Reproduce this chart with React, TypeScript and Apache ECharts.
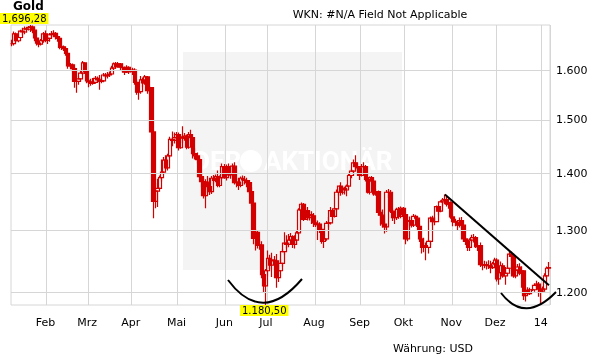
import React, { useEffect, useRef } from "react";
import * as echarts from "echarts";

// ---- categories (trading weekdays, 9 Jan 2013 .. 6 Jan 2014) ----
const startDate = "2013-01-09";
const endDate = "2014-01-06";
const xTickLabels = ["Feb", "Mrz", "Apr", "Mai", "Jun", "Jul", "Aug", "Sep", "Okt", "Nov", "Dez", "14"];
const yTicks = [1200, 1300, 1400, 1500, 1600];
const yTickLabels = ["1.200", "1.300", "1.400", "1.500", "1.600"];

// ---- OHLC per month: [open, close, low, high] ----
const jan13 = [
  [1656, 1656, 1650, 1664], [1656, 1677, 1652, 1682], [1677, 1662, 1658, 1680], [1662, 1669, 1659, 1673],
  [1669, 1683, 1665, 1686], [1683, 1681, 1674, 1690], [1681, 1688, 1676, 1693], [1688, 1687, 1680, 1692],
  [1687, 1691, 1684, 1694], [1691, 1692, 1681, 1696.28], [1692, 1685, 1678, 1695], [1685, 1668, 1661, 1690],
  [1668, 1657, 1652, 1670], [1657, 1655, 1648, 1664], [1655, 1662, 1652, 1666], [1662, 1677, 1658, 1681],
  [1677, 1663, 1659, 1684],
];
const feb13 = [
  [1663, 1667, 1655, 1674], [1667, 1675, 1660, 1679], [1675, 1677, 1668, 1683], [1677, 1678, 1670, 1685],
  [1678, 1671, 1665, 1681], [1671, 1667, 1660, 1675], [1667, 1648, 1644, 1669], [1648, 1649, 1642, 1653],
  [1649, 1645, 1640, 1652], [1645, 1635, 1630, 1648], [1635, 1609, 1603, 1637], [1609, 1611, 1604, 1615],
  [1611, 1603, 1597, 1614], [1603, 1577, 1564, 1606], [1577, 1577, 1554, 1582], [1577, 1582, 1570, 1588],
  [1582, 1594, 1578, 1598], [1594, 1615, 1590, 1619], [1615, 1597, 1592, 1616], [1597, 1578, 1573, 1600],
];
const mar13 = [
  [1578, 1576, 1565, 1582], [1576, 1573, 1568, 1582], [1573, 1575, 1570, 1584], [1575, 1583, 1572, 1588],
  [1583, 1580, 1575, 1587], [1580, 1577, 1560, 1590], [1577, 1578, 1573, 1584], [1578, 1590, 1575, 1594],
  [1590, 1588, 1584, 1594], [1588, 1590, 1583, 1596], [1590, 1592, 1586, 1597], [1592, 1604, 1590, 1609],
  [1604, 1613, 1600, 1616], [1613, 1607, 1603, 1617], [1607, 1613, 1605, 1617], [1613, 1606, 1600, 1615],
  [1606, 1605, 1596, 1614], [1605, 1596, 1590, 1607], [1596, 1606, 1594, 1610], [1606, 1597, 1592, 1608],
  [1597, 1598, 1595, 1600],
];
const apr13 = [
  [1598, 1600, 1590, 1605], [1600, 1575, 1570, 1604], [1575, 1555, 1550, 1580], [1555, 1556, 1540, 1562],
  [1556, 1580, 1552, 1588], [1580, 1574, 1565, 1585], [1574, 1586, 1570, 1590], [1586, 1558, 1552, 1588],
  [1558, 1564, 1550, 1568], [1564, 1477, 1475, 1565], [1477, 1350, 1321, 1480], [1350, 1368, 1338, 1383],
  [1368, 1373, 1340, 1390], [1373, 1392, 1370, 1396], [1392, 1402, 1385, 1425], [1402, 1424, 1398, 1430],
  [1424, 1410, 1405, 1433], [1410, 1432, 1405, 1436], [1432, 1463, 1428, 1468], [1463, 1461, 1450, 1478],
  [1461, 1466, 1455, 1476], [1466, 1472, 1460, 1477],
];
const may13 = [
  [1472, 1447, 1442, 1476], [1447, 1467, 1445, 1472], [1467, 1465, 1456, 1488], [1465, 1469, 1460, 1475],
  [1469, 1448, 1444, 1472], [1448, 1472, 1445, 1477], [1472, 1466, 1460, 1481], [1466, 1436, 1427, 1468],
  [1436, 1432, 1425, 1446], [1432, 1425, 1418, 1438], [1425, 1394, 1392, 1428], [1394, 1385, 1375, 1400],
  [1385, 1360, 1355, 1392], [1360, 1384, 1338, 1389], [1384, 1376, 1370, 1395], [1376, 1367, 1361, 1392],
  [1367, 1391, 1363, 1395], [1391, 1387, 1380, 1397], [1387, 1394, 1384, 1398], [1394, 1378, 1375, 1405],
  [1378, 1392, 1375, 1396], [1392, 1412, 1389, 1418], [1412, 1392, 1390, 1417],
];
const jun13 = [
  [1392, 1412, 1387, 1416], [1412, 1397, 1393, 1418], [1397, 1398, 1390, 1404], [1398, 1413, 1393, 1418],
  [1413, 1383, 1380, 1420], [1383, 1384, 1375, 1390], [1384, 1378, 1370, 1392], [1378, 1391, 1375, 1394],
  [1391, 1388, 1378, 1396], [1388, 1387, 1380, 1395], [1387, 1383, 1375, 1392], [1383, 1367, 1363, 1388],
  [1367, 1347, 1342, 1375], [1347, 1287, 1277, 1350], [1287, 1297, 1267, 1302], [1297, 1275, 1270, 1300],
  [1275, 1276, 1268, 1285], [1276, 1228, 1222, 1282], [1228, 1210, 1200, 1233], [1210, 1234, 1180.5, 1237],
];
const jul13 = [
  [1234, 1254, 1225, 1267], [1254, 1243, 1237, 1260], [1243, 1251, 1224, 1263], [1251, 1250, 1245, 1258],
  [1250, 1223, 1207, 1261], [1223, 1234, 1216, 1244], [1234, 1246, 1232, 1252], [1246, 1265, 1241, 1269],
  [1265, 1279, 1260, 1297], [1279, 1277, 1270, 1292], [1277, 1284, 1272, 1294], [1284, 1290, 1278, 1296],
  [1290, 1277, 1271, 1292], [1277, 1284, 1270, 1292], [1284, 1296, 1276, 1299], [1296, 1335, 1293, 1338],
  [1335, 1345, 1333, 1348], [1345, 1319, 1316, 1347], [1319, 1334, 1318, 1338], [1334, 1322, 1317, 1340],
  [1322, 1327, 1317, 1333], [1327, 1325, 1311, 1333], [1325, 1313, 1306, 1330],
];
const aug13 = [
  [1313, 1310, 1306, 1318], [1310, 1311, 1284, 1317], [1311, 1302, 1296, 1314], [1302, 1282, 1278, 1306],
  [1282, 1286, 1271, 1292], [1286, 1312, 1283, 1316], [1312, 1313, 1305, 1323], [1313, 1334, 1310, 1340],
  [1334, 1324, 1318, 1336], [1324, 1337, 1322, 1339], [1337, 1366, 1333, 1371], [1366, 1377, 1360, 1378],
  [1377, 1366, 1360, 1384], [1366, 1373, 1362, 1377], [1373, 1370, 1362, 1376], [1370, 1377, 1359, 1380],
  [1377, 1396, 1372, 1400], [1396, 1404, 1391, 1408], [1404, 1419, 1398, 1425], [1419, 1412, 1406, 1433],
  [1412, 1410, 1404, 1418], [1410, 1396, 1388, 1413],
];
const sep13 = [
  [1396, 1412, 1394, 1417], [1412, 1412, 1400, 1420], [1412, 1389, 1385, 1415], [1389, 1366, 1364, 1392],
  [1366, 1392, 1362, 1394], [1392, 1386, 1382, 1395], [1386, 1363, 1360, 1389], [1363, 1367, 1360, 1372],
  [1367, 1331, 1326, 1369], [1331, 1326, 1308, 1335], [1326, 1311, 1305, 1336], [1311, 1306, 1295, 1315],
  [1306, 1366, 1298, 1370], [1366, 1366, 1356, 1372], [1366, 1333, 1330, 1370], [1333, 1322, 1316, 1336],
  [1322, 1322, 1311, 1328], [1322, 1336, 1318, 1339], [1336, 1324, 1320, 1340], [1324, 1338, 1321, 1341],
  [1338, 1327, 1320, 1340],
];
const oct13 = [
  [1327, 1286, 1277, 1331], [1286, 1316, 1282, 1319], [1316, 1317, 1305, 1324], [1317, 1309, 1305, 1323],
  [1309, 1324, 1306, 1328], [1324, 1321, 1315, 1327], [1321, 1307, 1300, 1324], [1307, 1286, 1281, 1311],
  [1286, 1272, 1262, 1290], [1272, 1275, 1264, 1288], [1275, 1272, 1251, 1280], [1272, 1282, 1262, 1285],
  [1282, 1321, 1276, 1324], [1321, 1315, 1308, 1325], [1315, 1315, 1309, 1322], [1315, 1341, 1314, 1343],
  [1341, 1333, 1326, 1343], [1333, 1349, 1331, 1352], [1349, 1352, 1342, 1356], [1352, 1353, 1345, 1362],
  [1353, 1345, 1341, 1361], [1345, 1348, 1337, 1355], [1348, 1323, 1320, 1350],
];
const nov13 = [
  [1323, 1315, 1307, 1328], [1315, 1314, 1307, 1320], [1314, 1309, 1300, 1318], [1309, 1317, 1305, 1322],
  [1317, 1309, 1302, 1323], [1309, 1286, 1281, 1312], [1286, 1282, 1276, 1289], [1282, 1272, 1266, 1286],
  [1272, 1284, 1266, 1287], [1284, 1288, 1280, 1293], [1288, 1288, 1280, 1294], [1288, 1273, 1271, 1291],
  [1273, 1275, 1266, 1280], [1275, 1244, 1240, 1280], [1244, 1243, 1235, 1250], [1243, 1244, 1238, 1250],
  [1244, 1242, 1236, 1249], [1242, 1242, 1237, 1251], [1242, 1239, 1230, 1250], [1239, 1245, 1237, 1248],
  [1245, 1251, 1240, 1255],
];
const dec13 = [
  [1251, 1221, 1217, 1254], [1221, 1231, 1212, 1236], [1231, 1242, 1225, 1249], [1242, 1226, 1223, 1246],
  [1226, 1230, 1212, 1240], [1230, 1238, 1226, 1242], [1238, 1261, 1234, 1267], [1261, 1257, 1250, 1265],
  [1257, 1226, 1223, 1259], [1226, 1235, 1222, 1244], [1235, 1240, 1230, 1245], [1240, 1230, 1227, 1246],
  [1230, 1234, 1207, 1241], [1234, 1195, 1188, 1235], [1195, 1203, 1186, 1206], [1203, 1198, 1196, 1208],
  [1198, 1204, 1196, 1207], [1204, 1204, 1202, 1206], [1204, 1211, 1201, 1214], [1211, 1213, 1208, 1218],
  [1213, 1205, 1193, 1216], [1205, 1202, 1181.5, 1208],
];
const jan14 = [
  [1202, 1205, 1200, 1209], [1205, 1226, 1203, 1230], [1226, 1238, 1222, 1241], [1238, 1239, 1232, 1248],
];

// ---- annotations ----
const trendStart = ["2013-10-28", 1362];
const trendEnd = ["2014-01-06", 1211];
const highLabel = "1,696,28";
const lowLabel = "1.180,50";

const FONT = '"DejaVu Sans", Verdana, sans-serif';
const RED = "#d20000";
const GRID = "#d6d6d6";

function buildDates(): string[] {
  const out: string[] = [];
  const end = Date.parse(endDate + "T00:00:00Z");
  for (let t = Date.parse(startDate + "T00:00:00Z"); t <= end; t += 86400000) {
    const d = new Date(t);
    const wd = d.getUTCDay();
    if (wd === 0 || wd === 6) continue;
    out.push(d.toISOString().slice(0, 10));
  }
  return out;
}

export default function App() {
  const ref = useRef<HTMLDivElement>(null);
  useEffect(() => {
    if (!ref.current) return;
    const chart = echarts.init(ref.current, undefined, { renderer: "svg" });
    const dates = buildDates();
    const ohlc = [...jan13, ...feb13, ...mar13, ...apr13, ...may13, ...jun13, ...jul13, ...aug13, ...sep13, ...oct13, ...nov13, ...dec13, ...jan14];
    const monthStart: Record<number, string> = {};
    let k = 0;
    for (let i = 1; i < dates.length; i++) {
      if (dates[i].slice(5, 7) !== dates[i - 1].slice(5, 7)) {
        monthStart[i] = xTickLabels[k++];
      }
    }
    const isStart = (i: number) => monthStart[i] !== undefined;

    chart.setOption({
      animation: false,
      grid: {
        left: 11, right: 61, top: 25, bottom: 59,
        show: true, borderColor: GRID, borderWidth: 1, backgroundColor: "transparent",
        containLabel: false, outerBoundsMode: "none",
      },
      xAxis: {
        type: "category",
        data: dates,
        boundaryGap: true,
        axisLine: { show: false },
        axisTick: { show: false },
        axisLabel: {
          interval: (i: number) => isStart(i),
          formatter: (_v: string, i: number) => monthStart[i] ?? "",
          fontFamily: FONT, fontSize: 11, color: "#000", margin: 12,
          padding: [0, 4, 0, 0],
        },
        splitLine: { show: true, interval: (i: number) => isStart(i), lineStyle: { color: GRID, width: 1 } },
      },
      yAxis: {
        type: "log",
        logBase: 10,
        min: 1180.5,
        max: 1696.28,
        position: "right",
        axisLine: { show: false },
        axisTick: { show: false },
        axisLabel: { show: false },
        splitLine: { show: false },
      },
      series: [
        {
          type: "line",
          data: [],
          z: 1,
          silent: true,
          markLine: {
            silent: true,
            symbol: "none",
            animation: false,
            lineStyle: { color: GRID, type: "solid", width: 1 },
            label: {
              position: "end",
              distance: 6,
              formatter: (p: any) => yTickLabels[yTicks.indexOf(p.value)] ?? "",
              fontFamily: FONT, fontSize: 11, color: "#000",
            },
            data: yTicks.map((v) => ({ yAxis: v })),
          },
        },
        {
          type: "candlestick",
          data: ohlc,
          z: 3,
          barWidth: 4,
          itemStyle: {
            color: "transparent",
            color0: RED,
            borderColor: RED,
            borderColor0: RED,
            borderWidth: 1.2,
          },
          markLine: {
            silent: true,
            symbol: "none",
            animation: false,
            label: { show: false },
            lineStyle: { color: "#000", type: "solid", width: 2 },
            data: [[{ coord: trendStart }, { coord: trendEnd }]],
          },
        },
      ],
      graphic: [
        { type: "rect", z: -10, shape: { x: 183, y: 52, width: 219, height: 218 }, style: { fill: "#f4f4f4" } },
        { type: "text", z: -9, x: 193, y: 161, style: { text: "DER", font: "bold 26px Roboto, sans-serif", fill: "#ffffff", textVerticalAlign: "middle", verticalAlign: "middle" } },
        { type: "circle", z: -9, shape: { cx: 251, cy: 161, r: 11 }, style: { fill: "#ffffff" } },
        { type: "text", z: -9, x: 264, y: 161, style: { text: "AKTIONÄR", font: "bold 26px Roboto, sans-serif", fill: "#ffffff", textVerticalAlign: "middle", verticalAlign: "middle" } },
        { type: "text", z: 50, x: 13, y: 0, style: { text: "Gold", font: "bold 12px " + FONT, fill: "#000" } },
        { type: "text", z: 50, x: 380, y: 14, style: { text: "WKN: #N/A Field Not Applicable", font: "11px " + FONT, fill: "#000", textAlign: "center", align: "center", textVerticalAlign: "middle", verticalAlign: "middle" } },
        { type: "text", z: 50, x: 433, y: 348, style: { text: "Währung: USD", font: "11px " + FONT, fill: "#000", textAlign: "center", align: "center", textVerticalAlign: "middle", verticalAlign: "middle" } },
        { type: "text", z: 60, x: 0, y: 13, style: { text: highLabel, font: "10px " + FONT, fill: "#000", backgroundColor: "#ffff00", padding: [0, 2, 0, 2], lineHeight: 11 } },
        { type: "text", z: 60, x: 240, y: 305, style: { text: lowLabel, font: "10px " + FONT, fill: "#000", backgroundColor: "#ffff00", padding: [0, 2, 0, 2], lineHeight: 11 } },
        { type: "bezierCurve", z: 40, shape: { x1: 228, y1: 280, x2: 302, y2: 279, cpx1: 262, cpy1: 326 }, style: { stroke: "#000", lineWidth: 2, fill: null } },
        { type: "bezierCurve", z: 40, shape: { x1: 501, y1: 293, x2: 556, y2: 292, cpx1: 525, cpy1: 324 }, style: { stroke: "#000", lineWidth: 2, fill: null } },
      ],
    });
    return () => chart.dispose();
  }, []);
  return <div ref={ref} style={{ position: "fixed", left: 0, top: 0, width: 611, height: 364 }} />;
}
